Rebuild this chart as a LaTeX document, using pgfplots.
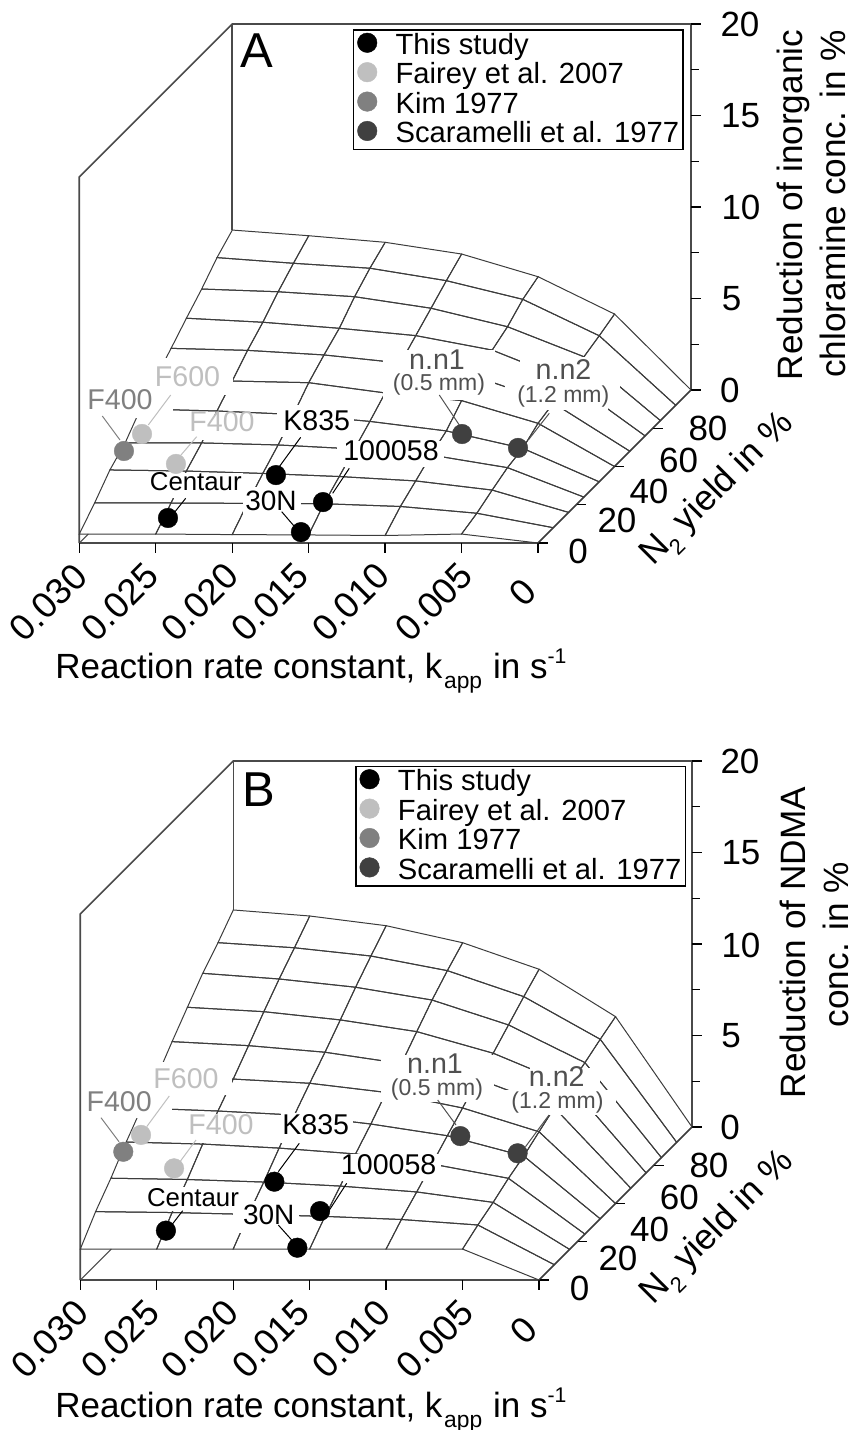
\documentclass[border=0pt]{standalone}
\usepackage{pgfplots}
\pgfplotsset{compat=1.18}
\usepackage{fontspec}
\setmainfont{Liberation Sans}
\definecolor{wallc}{HTML}{4A4A4A}
\definecolor{meshc}{HTML}{3C3C3C}
\definecolor{cA}{HTML}{000000}
\definecolor{cB}{HTML}{BFBFBF}
\definecolor{cC}{HTML}{808080}
\definecolor{cD}{HTML}{404040}
\definecolor{cN}{HTML}{505050}
\newcommand{\PP}[2]{([shift={({(#1-\ox)*0.5pt},{(\oy-#2)*0.5pt})}]axis cs:0,0,0)}
\newcommand{\fs}[1]{\fontsize{#1}{#1}\selectfont}
\newcommand{\Lab}[5][]{\node[inner sep=0pt,font=\fs{#2},#1] at \PP{#3}{#4} {#5};}
\newcommand{\Blank}[4]{\fill[white] \PP{#1}{#2} rectangle \PP{#3}{#4};}
\newcommand{\Lead}[5]{\draw[#1,line width=0.5pt] \PP{#2}{#3} -- \PP{#4}{#5};}
\newcommand{\KLabel}{Reaction rate constant, k\kern0.8pt\raisebox{-0.3em}{\fs{11.4}app}\kern0.6pt{} in s\raisebox{0.42em}{\fs{10.6}-1}}
\pgfplotsset{
  panel/.style={
    hide axis, clip=false,
    xmin=0,xmax=0.03,ymin=0,ymax=80,zmin=0,zmax=20,
    x={(-7645pt,0pt)}, y={(0.95625pt,0.95625pt)}, z={(0pt,9.15pt)},
    colormap={one}{color=(meshc) color=(meshc)},
    legend cell align=left,
    legend image post style={xshift=6.8pt,yshift=1.5pt},
    legend style={anchor=north west,draw=black,line width=0.75pt,fill=white,
      font=\fs{14.6},inner xsep=2pt,inner ysep=0.5pt,row sep=0pt,column sep=9.3pt,
      nodes={inner sep=0pt,text height=11.7pt,text depth=3pt}},
  },
  wall/.style={forget plot,no marks,color=wallc,line width=0.8pt},
  tk/.style={forget plot,no marks,color=black,line width=0.6pt,unbounded coords=jump},
  msh/.style={forget plot,mesh,mesh/cols=7,mesh/rows=11,mesh/ordering=x varies,line width=0.5pt,no marks},
  dot/.style={only marks,color=#1,mark=*,mark size=4.9pt,mark options={solid,draw=#1,fill=#1,line width=0.2pt}},
}
\newcommand{\Frame}[2]{%
  \addplot3[wall] coordinates {(0.03,0,0)(0.03,0,20)(0.03,80,20)(0,80,20)(0,80,0)(0,0,0)(0.03,0,0)};
  \addplot3[wall] coordinates {(0.03,80,20)(0.03,80,#1)};
  \addplot3[wall,line width=0.5pt] coordinates {(0.03,0,0)(0.03,#2,0)};
  \addplot3[tk] coordinates {(0.03,0,0)(0.03,0,-0.546)(nan,nan,nan)(0.025,0,0)(0.025,0,-0.546)(nan,nan,nan)(0.02,0,0)(0.02,0,-0.546)(nan,nan,nan)(0.015,0,0)(0.015,0,-0.546)(nan,nan,nan)(0.01,0,0)(0.01,0,-0.546)(nan,nan,nan)(0.005,0,0)(0.005,0,-0.546)(nan,nan,nan)(0,0,0)(0,0,-0.546)};
  \addplot3[tk] coordinates {(0,0,0)(-0.00065,0,0)(nan,nan,nan)(0,20,0)(-0.00065,20,0)(nan,nan,nan)(0,40,0)(-0.00065,40,0)(nan,nan,nan)(0,60,0)(-0.00065,60,0)(nan,nan,nan)(0,80,0)(-0.00065,80,0)};
  \addplot3[tk] coordinates {(0,80,0)(-0.00065,80,0)(nan,nan,nan)(0,80,2.5)(-0.0005,80,2.5)(nan,nan,nan)(0,80,5)(-0.00065,80,5)(nan,nan,nan)(0,80,7.5)(-0.0005,80,7.5)(nan,nan,nan)(0,80,10)(-0.00065,80,10)(nan,nan,nan)(0,80,12.5)(-0.0005,80,12.5)(nan,nan,nan)(0,80,15)(-0.00065,80,15)(nan,nan,nan)(0,80,17.5)(-0.0005,80,17.5)(nan,nan,nan)(0,80,20)(-0.00065,80,20)};
}
\begin{document}
\begin{tikzpicture}
\def\ox{538}\def\oy{543}
\begin{axis}[panel,at={(0pt,0pt)},
  legend style={at={(axis cs:0.022126,80,19.71)}}]
\coordinate (O) at (axis cs:0,0,0);
\Frame{8.74}{4.7}
\addplot3[msh] coordinates {
(0.03,0,0.49)(0.025,0,0.49)(0.02,0,0.46)(0.015,0,0.44)(0.01,0,0.41)(0.005,0,0.49)(0,0,0)
(0.03,8,1.35)(0.025,8,1.35)(0.02,8,1.33)(0.015,8,1.31)(0.01,8,1.16)(0.005,8,0.79)(0,8,0)
(0.03,16,2.32)(0.025,16,2.26)(0.02,16,2.13)(0.015,16,1.96)(0.01,16,1.72)(0.005,16,1.22)(0,16,0)
(0.03,24,2.97)(0.025,24,2.96)(0.02,24,2.85)(0.015,24,2.63)(0.01,24,2.30)(0.005,24,1.61)(0,24,0)
(0.03,32,3.98)(0.025,32,3.87)(0.02,32,3.68)(0.015,32,3.30)(0.01,32,2.78)(0.005,32,1.83)(0,32,0)
(0.03,40,4.84)(0.025,40,4.67)(0.02,40,4.58)(0.015,40,4.02)(0.01,40,3.60)(0.005,40,2.36)(0,40,0)
(0.03,48,5.62)(0.025,48,5.51)(0.02,48,5.26)(0.015,48,4.82)(0.01,48,4.05)(0.005,48,2.63)(0,48,0)
(0.03,56,6.43)(0.025,56,6.21)(0.02,56,5.88)(0.015,56,5.48)(0.01,56,4.69)(0.005,56,3.02)(0,56,0)
(0.03,64,7.19)(0.025,64,7.04)(0.02,64,6.77)(0.015,64,6.14)(0.01,64,5.13)(0.005,64,3.49)(0,64,0)
(0.03,72,8.07)(0.025,72,7.76)(0.02,72,7.49)(0.015,72,6.81)(0.01,72,5.79)(0.005,72,3.80)(0,72,0)
(0.03,80,8.74)(0.025,80,8.43)(0.02,80,8.07)(0.015,80,7.43)(0.01,80,6.19)(0.005,80,4.15)(0,80,0)
};
\Blank{150}{358}{233}{395}
\Blank{84}{382}{173}{418}
\Blank{186}{415}{258}{440}
\Blank{277}{405}{354}{437}
\Blank{337}{441}{444}{467}
\Blank{148}{473}{243}{498}
\Blank{243}{487}{301}{514}
\Blank{383}{350}{495}{399.5}
\Blank{520}{357}{620}{389}
\Blank{505}{383}{608}{410}
\Lead{cC}{102.3}{416}{120}{440}
\Lead{cB}{170.7}{395}{148.3}{425}
\Lead{cB}{196.7}{436.7}{176.7}{460}
\Lead{black}{300.7}{437.3}{279.3}{466.7}
\Lead{black}{349.3}{468.3}{332.7}{493.3}
\Lead{black}{185.7}{498.3}{175}{511.7}
\Lead{black}{281.7}{511.7}{294}{526}
\Lead{cN}{439.3}{395}{459.3}{425}
\Lead{cN}{549.3}{413.3}{528.3}{440}
\addplot3[dot=cA] coordinates {(0.0247,4,0.95)(0.01914,16,2.04)(0.01506,8,1.40)(0.01563,1,0.49)};
\addlegendentry{This study}
\addplot3[dot=cB] coordinates {(0.02915,26,3.24)(0.02593,18,2.44)};
\addlegendentry{Fairey et al. 2007}
\addplot3[dot=cC] coordinates {(0.02978,21.6,2.77)};
\addlegendentry{Kim 1977}
\addplot3[dot=cD] coordinates {(0.00897,32,2.61)(0.00531,32,1.85)};
\addlegendentry{Scaramelli et al. 1977}
\Lab{24.5}{257}{51}{A}
\Lab[cB]{14.3}{187.5}{376.7}{F600}
\Lab[cC]{14.3}{120}{400}{F400}
\Lab[cB]{14.3}{222}{421.7}{F400}
\Lab{14.3}{316.7}{421}{K835}
\Lab{14.3}{391}{451}{100058}
\Lab{12.9}{195.8}{482}{Centaur}
\Lab{14}{271}{501}{30N}
\Lab[cN]{14.3}{437}{360}{n.n1}
\Lab[cN]{11.5}{439}{385}{(0.5 mm)}
\Lab[cN]{14.3}{563.5}{370}{n.n2}
\Lab[cN]{11.5}{563.3}{396.7}{(1.2 mm)}
\Lab[rotate=45]{18.2}{48.3}{602.3}{0.030}
\Lab[rotate=45]{18.2}{120}{602}{0.025}
\Lab[rotate=45]{18.2}{200}{602}{0.020}
\Lab[rotate=45]{18.2}{270}{602}{0.015}
\Lab[rotate=45]{18.2}{350.8}{602}{0.010}
\Lab[rotate=45]{18.2}{434}{602}{0.005}
\Lab[rotate=45]{18.2}{523}{592}{0}
\Lab{17.5}{578}{551}{0}
\Lab{17.5}{617}{520}{20}
\Lab{17.5}{649}{491}{40}
\Lab{17.5}{678.7}{460}{60}
\Lab{17.5}{708}{428}{80}
\Lab{17.5}{740}{24}{20}
\Lab{17.5}{740.7}{115.8}{15}
\Lab{17.5}{741}{207.5}{10}
\Lab{17.5}{731.7}{299}{5}
\Lab{17.5}{729.8}{390}{0}
\Lab[anchor=base west]{17.5}{55}{678}{\KLabel}
\Lab[rotate=45]{17.8}{718.5}{490.7}{N\raisebox{-0.3em}{\fs{11}2} yield in \%}
\Lab[rotate=90,anchor=base]{17.6}{802.7}{205}{Reduction of inorganic}
\Lab[rotate=90,anchor=base]{17.6}{845.3}{204}{chloramine conc. in \%}
\end{axis}
\def\ox{539}\def\oy{1280}
\begin{axis}[panel,at={(0.5pt,-368.5pt)},
  legend style={at={(axis cs:0.02204,80,19.74)}}]
\Frame{11.86}{16.2}
\addplot3[msh] coordinates {
(0.03,0,1.69)(0.025,0,1.69)(0.02,0,1.69)(0.015,0,1.69)(0.01,0,1.69)(0.005,0,1.69)(0,0,0)
(0.03,8,2.90)(0.025,8,2.85)(0.02,8,2.75)(0.015,8,2.64)(0.01,8,2.47)(0.005,8,2.17)(0,8,0)
(0.03,16,3.89)(0.025,16,3.82)(0.02,16,3.68)(0.015,16,3.46)(0.01,16,3.14)(0.005,16,2.57)(0,16,0)
(0.03,24,5.03)(0.025,24,4.92)(0.02,24,4.70)(0.015,24,4.38)(0.01,24,3.83)(0.005,24,3.05)(0,24,0)
(0.03,32,6.05)(0.025,32,5.89)(0.02,32,5.67)(0.015,32,5.18)(0.01,32,4.54)(0.005,32,3.43)(0,32,0)
(0.03,40,6.91)(0.025,40,6.80)(0.02,40,6.57)(0.015,40,6.07)(0.01,40,5.22)(0.005,40,3.92)(0,40,0)
(0.03,48,8.01)(0.025,48,7.79)(0.02,48,7.43)(0.015,48,6.81)(0.01,48,5.97)(0.005,48,4.40)(0,48,0)
(0.03,56,9.05)(0.025,56,8.81)(0.02,56,8.36)(0.015,56,7.72)(0.01,56,6.54)(0.005,56,4.80)(0,56,0)
(0.03,64,10.07)(0.025,64,9.76)(0.02,64,9.31)(0.015,64,8.61)(0.01,64,7.25)(0.005,64,5.19)(0,64,0)
(0.03,72,10.91)(0.025,72,10.63)(0.02,72,10.18)(0.015,72,9.38)(0.01,72,7.96)(0.005,72,5.63)(0,72,0)
(0.03,80,11.86)(0.025,80,11.53)(0.02,80,11.0)(0.015,80,10.07)(0.01,80,8.62)(0.005,80,6.03)(0,80,0)
};
\Blank{150}{1062}{232}{1095}
\Blank{85}{1085}{172}{1118}
\Blank{186}{1114}{258}{1142.5}
\Blank{281}{1113}{353}{1143}
\Blank{338}{1154}{441}{1181}
\Blank{143}{1187}{240}{1211}
\Blank{233}{1201}{299}{1233}
\Blank{381}{1055}{494}{1102}
\Blank{530}{1068}{600}{1092}
\Blank{498}{1090}{616}{1115}
\Lead{cC}{101}{1117.7}{119}{1141.7}
\Lead{cB}{169.3}{1096}{146.7}{1126.7}
\Lead{cB}{196}{1140}{180}{1161.7}
\Lead{black}{299.3}{1143.3}{278.3}{1171.7}
\Lead{black}{346.7}{1183.3}{328.3}{1211.7}
\Lead{black}{182.7}{1210.7}{171.7}{1225}
\Lead{black}{278.3}{1225}{291.7}{1240}
\Lead{cN}{437.7}{1100}{456}{1125}
\Lead{cN}{549}{1115}{525.5}{1146.7}
\addplot3[dot=cA] coordinates {(0.0249,4,2.28)(0.01931,16,3.70)(0.01532,8,2.93)(0.01593,1,1.66)};
\addlegendentry{This study}
\addplot3[dot=cB] coordinates {(0.02928,26,5.21)(0.02612,18,4.22)};
\addlegendentry{Fairey et al. 2007}
\addplot3[dot=cC] coordinates {(0.02989,21.6,4.75)};
\addlegendentry{Kim 1977}
\addplot3[dot=cD] coordinates {(0.00915,32,4.52)(0.0054,32,3.58)};
\addlegendentry{Scaramelli et al. 1977}
\Lab{24.5}{259}{790}{B}
\Lab[cB]{14.3}{186}{1079}{F600}
\Lab[cC]{14.3}{119.2}{1101.7}{F400}
\Lab[cB]{14.3}{221}{1125}{F400}
\Lab{14.3}{315.7}{1125}{K835}
\Lab{14.3}{388.7}{1165}{100058}
\Lab{12.9}{193}{1197.7}{Centaur}
\Lab{14}{268.8}{1215}{30N}
\Lab[cN]{14.3}{435}{1064}{n.n1}
\Lab[cN]{11.5}{437}{1090}{(0.5 mm)}
\Lab[cN]{14.3}{556.8}{1077}{n.n2}
\Lab[cN]{11.5}{557.5}{1102.7}{(1.2 mm)}
\Lab[rotate=45]{18.2}{49.7}{1339}{0.030}
\Lab[rotate=45]{18.2}{120.3}{1339}{0.025}
\Lab[rotate=45]{18.2}{200}{1339}{0.020}
\Lab[rotate=45]{18.2}{270.5}{1339}{0.015}
\Lab[rotate=45]{18.2}{351.3}{1339}{0.010}
\Lab[rotate=45]{18.2}{435}{1339}{0.005}
\Lab[rotate=45]{18.2}{524}{1330}{0}
\Lab{17.5}{579.5}{1288.7}{0}
\Lab{17.5}{618}{1258}{20}
\Lab{17.5}{649.7}{1229}{40}
\Lab{17.5}{679.3}{1197.7}{60}
\Lab{17.5}{709}{1165}{80}
\Lab{17.5}{740}{761}{20}
\Lab{17.5}{741}{852.5}{15}
\Lab{17.5}{741}{945}{10}
\Lab{17.5}{731}{1036}{5}
\Lab{17.5}{730}{1127.5}{0}
\Lab[anchor=base west]{17.5}{55}{1417}{\KLabel}
\Lab[rotate=45]{17.8}{719}{1229}{N\raisebox{-0.3em}{\fs{11}2} yield in \%}
\Lab[rotate=90,anchor=base]{17.6}{806}{942.5}{Reduction of NDMA}
\Lab[rotate=90,anchor=base]{17.6}{848.7}{944.5}{conc. in \%}
\end{axis}
\pgfresetboundingbox
\path[use as bounding box] ([shift={(-269pt,271.5pt)}]O) rectangle ([shift={(157pt,-443.5pt)}]O);
\end{tikzpicture}
\end{document}
